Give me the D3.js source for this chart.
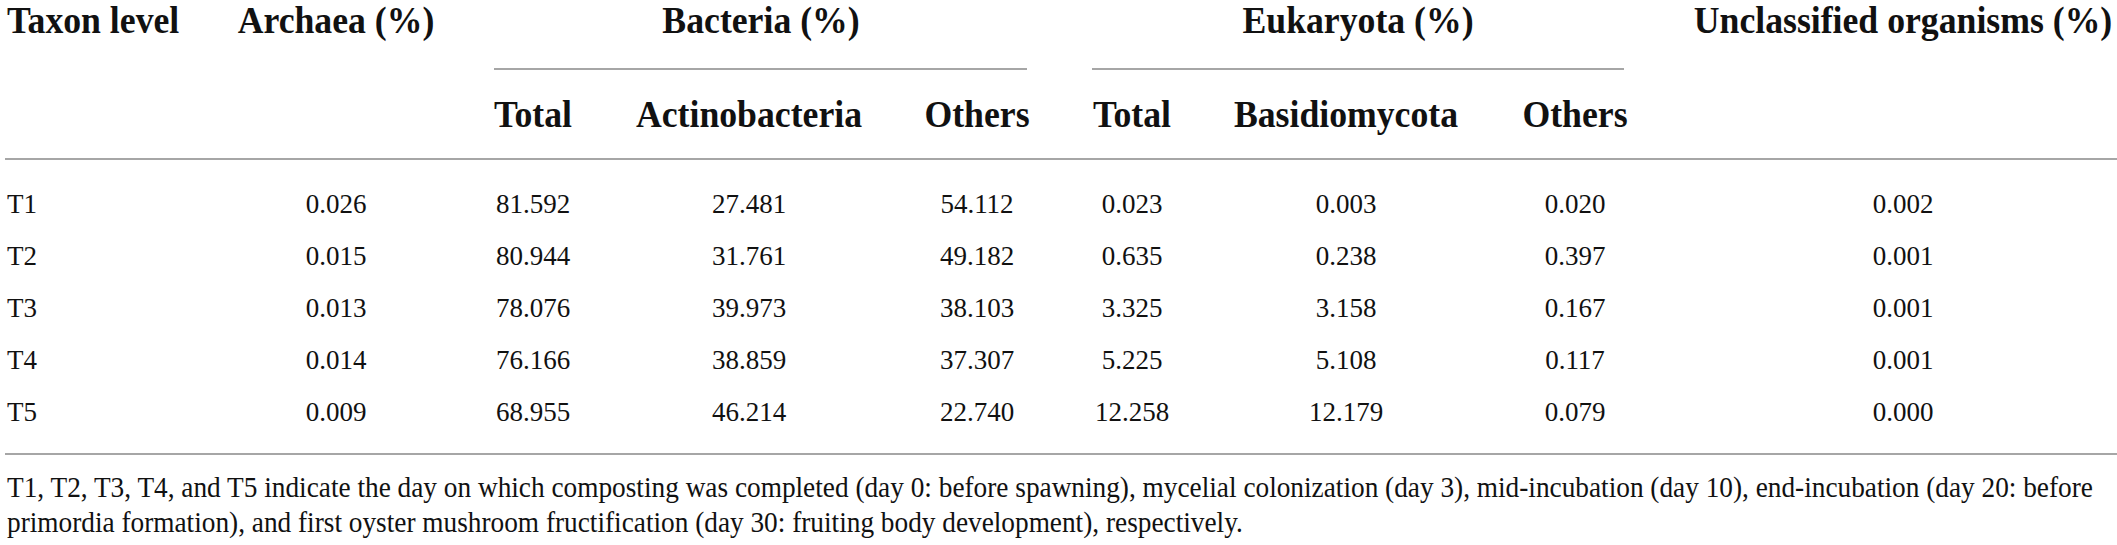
<!DOCTYPE html>
<html>
<head>
<meta charset="utf-8">
<script src="https://cdn.jsdelivr.net/npm/d3@7"></script>
<style>
  body { margin: 0; background: #fff; }
  text { font-family: "Liberation Serif", "DejaVu Serif", serif; fill: #111; }
  .head { font-weight: bold; font-size: 38px; }
  .cell { font-size: 27px; }
  .note { font-size: 30px; }
</style>
</head>
<body>
<div class="plot"></div>
<script>
var W = 2117, H = 545;

// table values
var taxa = ['T1', 'T2', 'T3', 'T4', 'T5'];
var archaea = [0.026, 0.015, 0.013, 0.014, 0.009];
var bacteriaTotal = [81.592, 80.944, 78.076, 76.166, 68.955];
var actinobacteria = [27.481, 31.761, 39.973, 38.859, 46.214];
var bacteriaOthers = [54.112, 49.182, 38.103, 37.307, 22.740];
var eukaryotaTotal = [0.023, 0.635, 3.325, 5.225, 12.258];
var basidiomycota = [0.003, 0.238, 3.158, 5.108, 12.179];
var eukaryotaOthers = [0.020, 0.397, 0.167, 0.117, 0.079];
var unclassified = [0.002, 0.001, 0.001, 0.001, 0.000];

var groupHeads = ['Archaea (%)', 'Bacteria (%)', 'Eukaryota (%)', 'Unclassified organisms (%)'];
var subHeads = ['Total', 'Actinobacteria', 'Others', 'Total', 'Basidiomycota', 'Others'];
var footnote = [
    'T1, T2, T3, T4, and T5 indicate the day on which composting was completed (day 0: before spawning), mycelial colonization (day 3), mid-incubation (day 10), end-incubation (day 20: before',
    'primordia formation), and first oyster mushroom fructification (day 30: fruiting body development), respectively.'
];

var columns = [archaea, bacteriaTotal, actinobacteria, bacteriaOthers,
               eukaryotaTotal, basidiomycota, eukaryotaOthers, unclassified];

// layout
var colX = d3.scaleOrdinal()
    .domain(d3.range(8))
    .range([336, 533, 749, 977, 1132, 1346, 1575, 1903]);
var groupX = [336, 761, 1358, 1903];
var spans = [[494, 1027], [1092, 1624]];
var y = d3.scalePoint().domain(taxa).range([213, 421]);
var fmt = d3.format('.3f');
var headScale = 0.94, noteScale = 0.91;

var svg = d3.select('.plot').append('svg')
    .attr('width', W)
    .attr('height', H);

svg.append('rect').attr('width', W).attr('height', H).attr('fill', '#fff');

var rule = function(x1, x2, yy){
    svg.append('line')
        .attr('x1', x1).attr('x2', x2)
        .attr('y1', yy).attr('y2', yy)
        .attr('stroke', '#a6a6a6')
        .attr('stroke-width', 2);
};

var place = function(x, yy, s){
    return 'translate(' + x + ',' + yy + ') scale(' + s + ',1)';
};

// header
svg.append('text').attr('class', 'head')
    .attr('transform', place(7, 33, headScale))
    .text('Taxon level');

svg.selectAll('.group')
    .data(groupHeads)
    .enter()
    .append('text')
    .attr('class', 'head group')
    .attr('transform', function(d, i){ return place(groupX[i], 33, headScale); })
    .attr('text-anchor', 'middle')
    .text(function(d){ return d; });

spans.forEach(function(s){ rule(s[0], s[1], 69); });

svg.selectAll('.sub')
    .data(subHeads)
    .enter()
    .append('text')
    .attr('class', 'head sub')
    .attr('transform', function(d, i){ return place(colX(i + 1), 127, headScale); })
    .attr('text-anchor', 'middle')
    .text(function(d){ return d; });

rule(5, W, 159);

// body
svg.selectAll('.taxon')
    .data(taxa)
    .enter()
    .append('text')
    .attr('class', 'cell taxon')
    .attr('x', 7)
    .attr('y', function(d){ return y(d); })
    .text(function(d){ return d; });

columns.forEach(function(col, c){
    svg.selectAll('.c' + c)
        .data(col)
        .enter()
        .append('text')
        .attr('class', 'cell c' + c)
        .attr('x', colX(c))
        .attr('y', function(d, i){ return y(taxa[i]); })
        .attr('text-anchor', 'middle')
        .text(function(d){ return fmt(d); });
});

rule(5, W, 454);

// footnote
svg.selectAll('.note')
    .data(footnote)
    .enter()
    .append('text')
    .attr('class', 'note')
    .attr('transform', function(d, i){ return place(7, 497 + i * 35, noteScale); })
    .text(function(d){ return d; });
</script>
</body>
</html>
